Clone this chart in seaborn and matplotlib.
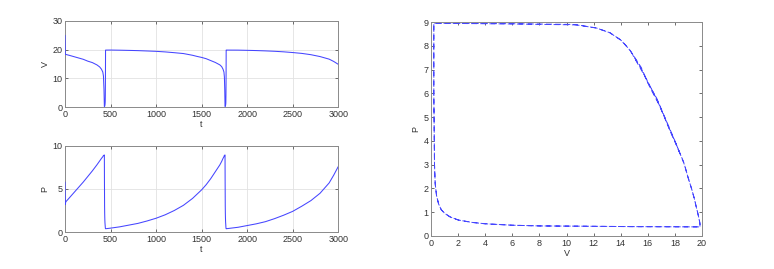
import numpy as np
import pandas as pd
import matplotlib
matplotlib.use('Agg')
import matplotlib.pyplot as plt
import seaborn as sns

# time samples and the two state variables
t_vals = [0, 3, 8, 50, 100, 150, 200, 250, 300, 350, 380, 400, 415, 422, 428, 432,
          433, 434.5, 435.5, 436.5, 437.5, 438.5, 439.5, 440.5, 441.5, 442, 442.5,
          443, 443.5, 444, 444.5, 445,
          500, 600, 700, 800, 900, 1000, 1100, 1200, 1300, 1400, 1450, 1500, 1550,
          1600, 1650, 1700, 1720, 1735, 1745, 1750, 1754, 1757,
          1758, 1759.5, 1760.5, 1761.5, 1762.5, 1763.5, 1764.5, 1765.5, 1766, 1766.5,
          1767, 1767.5, 1768, 1768.5, 1769, 1769.5, 1770,
          1800, 1900, 2000, 2100, 2200, 2300, 2400, 2500, 2600, 2700, 2800, 2900,
          2950, 3000]
v_vals = [25.0, 18.4, 18.35, 18.0, 17.55, 17.1, 16.65, 16.0, 15.5, 14.7, 14.0, 13.2,
          12.2, 10.8, 6.0, 0.2,
          0.2, 0.25, 0.3, 0.4, 0.55, 0.75, 1.0, 1.4, 2.0, 3.0, 4.0, 6.0, 8.0, 11.0,
          15.0, 19.85,
          19.87, 19.82, 19.75, 19.67, 19.55, 19.42, 19.22, 18.95, 18.65, 18.05, 17.65,
          17.3, 16.85, 16.2, 15.55, 14.7, 14.1, 13.2, 12.2, 10.5, 6.0, 0.2,
          0.2, 0.25, 0.3, 0.4, 0.55, 0.75, 1.0, 1.4, 2.0, 3.0, 4.0, 6.0, 8.0, 11.0,
          15.0, 19.85, 19.86,
          19.85, 19.84, 19.77, 19.69, 19.58, 19.44, 19.25, 19.0, 18.7, 18.25, 17.6,
          16.7, 15.9, 14.9]
p_vals = [5.8, 3.2, 3.5, 4.0, 4.6, 5.2, 5.8, 6.45, 7.1, 7.8, 8.25, 8.55, 8.75, 8.88,
          8.92, 8.95,
          6.0, 3.0, 2.2, 1.7, 1.35, 1.1, 0.95, 0.8, 0.67, 0.57, 0.51, 0.45, 0.42, 0.41,
          0.39, 0.38,
          0.45, 0.6, 0.8, 1.0, 1.28, 1.6, 2.0, 2.5, 3.1, 3.9, 4.4, 4.9, 5.5, 6.2, 7.0,
          7.8, 8.2, 8.55, 8.75, 8.9, 8.93, 8.95,
          6.0, 3.0, 2.2, 1.7, 1.35, 1.1, 0.95, 0.8, 0.67, 0.57, 0.51, 0.45, 0.42, 0.41,
          0.39, 0.38, 0.38,
          0.42, 0.55, 0.75, 0.95, 1.2, 1.55, 1.95, 2.4, 3.0, 3.65, 4.5, 5.7, 6.6, 7.6]

df = pd.DataFrame({'t': t_vals, 'V': v_vals, 'P': p_vals})

sns.set_style("ticks")
plt.rcParams['font.family'] = ['Liberation Sans', 'DejaVu Sans']
plt.rcParams['font.size'] = 6.5
plt.rcParams['lines.scale_dashes'] = False

line_col = '#4545ff'
spine_col = '#8a8a8a'


def matlab_look(ax, grid=True):
    for s in ax.spines.values():
        s.set_color(spine_col)
        s.set_linewidth(0.7)
    ax.tick_params(direction='in', length=2.5, width=0.6, color='#555555',
                   labelcolor='#333333', labelsize=6.5, pad=2,
                   top=True, right=True)
    if grid:
        ax.grid(True, color='#e2e2e2', linewidth=0.6)
        ax.set_axisbelow(True)


fig = plt.figure(figsize=(7.74, 2.69), dpi=100)

# top left: V(t)
ax1 = fig.add_axes([0.084, 0.602, 0.353, 0.32])
sns.lineplot(data=df, x='t', y='V', ax=ax1, color=line_col, lw=0.75,
             estimator=None, sort=False, zorder=3)
ax1.set_xlim(0, 3000)
ax1.set_ylim(0, 30)
ax1.set_xticks(np.arange(0, 3001, 500))
ax1.set_yticks([0, 10, 20, 30])
ax1.set_xlabel('t', labelpad=1, color='#333333')
ax1.set_ylabel('V', labelpad=2, color='#333333')
matlab_look(ax1)

# bottom left: P(t)
ax2 = fig.add_axes([0.084, 0.1375, 0.353, 0.32])
sns.lineplot(data=df, x='t', y='P', ax=ax2, color=line_col, lw=0.75,
             estimator=None, sort=False, zorder=3)
ax2.set_xlim(0, 3000)
ax2.set_ylim(0, 10)
ax2.set_xticks(np.arange(0, 3001, 500))
ax2.set_yticks([0, 5, 10])
ax2.set_xlabel('t', labelpad=1, color='#333333')
ax2.set_ylabel('P', labelpad=2, color='#333333')
matlab_look(ax2)

# right: phase portrait P vs V (initial transient left out)
ax3 = fig.add_axes([0.557, 0.123, 0.350, 0.795])
sns.lineplot(data=df.iloc[2:], x='V', y='P', ax=ax3, color=line_col, lw=0.7,
             estimator=None, sort=False, linestyle=(0, (4.3, 2.3)))
ax3.set_xlim(0, 20)
ax3.set_ylim(0, 9)
ax3.set_xticks(np.arange(0, 21, 2))
ax3.set_yticks(np.arange(0, 10, 1))
ax3.set_xlabel('V', labelpad=1, color='#333333')
ax3.set_ylabel('P', labelpad=2, color='#333333')
matlab_look(ax3, grid=False)

fig.savefig('out.png', dpi=100)
